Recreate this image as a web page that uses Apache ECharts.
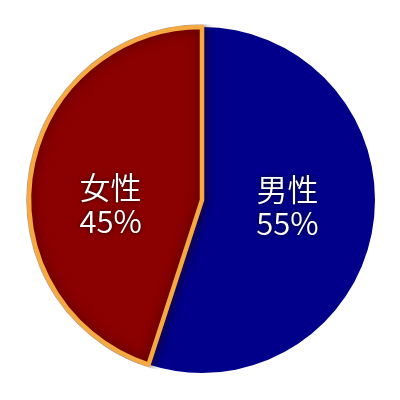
<!DOCTYPE html>
<html>
<head>
<meta charset="utf-8">
<script src="https://cdn.jsdelivr.net/npm/echarts@6/dist/echarts.min.js"></script>
<style>html,body{margin:0;padding:0;background:#fff;}#c{width:400px;height:400px;}</style>
</head>
<body>
<div id="c"></div>
<script>
var categories = ['男性', '女性'];
var values = [55, 45];
var colors = ['#00008B', '#8B0000'];

var chart = echarts.init(document.getElementById('c'), null, {renderer: 'canvas'});
var data = categories.map(function (name, i) {
  var item = { name: name, value: values[i], itemStyle: { color: colors[i] } };
  if (i === 1) {
    item.itemStyle.borderColor = '#F5A941';
    item.itemStyle.borderWidth = 4.5;
    item.itemStyle.shadowBlur = 12;
    item.itemStyle.shadowColor = 'rgba(40,0,0,0.75)';
  }
  return item;
});
chart.setOption({
  animation: false,
  backgroundColor: '#ffffff',
  series: [{
    type: 'pie',
    center: ['50.5%', '50%'],
    radius: 173,
    startAngle: 90,
    clockwise: true,
    silent: true,
    data: data,
    label: {
      show: true,
      position: 'inside',
      formatter: '{b}\n{d}%',
      color: '#ffffff',
      fontSize: 31,
      fontWeight: 350,
      lineHeight: 34,
      fontFamily: '"Noto Sans CJK JP", "Noto Sans", sans-serif',
      textShadowColor: 'rgba(0,0,0,0.85)',
      textShadowBlur: 4
    },
    labelLine: { show: false },
    labelLayout: function (p) {
      return p.dataIndex === 0 ? { dx: -3, dy: -8 } : { dx: -3, dy: 18 };
    },
    z: 2
  }, {
    type: 'pie',
    center: ['50.5%', '50%'],
    radius: [175.8, 215],
    silent: true,
    label: { show: false },
    labelLine: { show: false },
    data: [{ value: 1, itemStyle: { color: '#ffffff' } }],
    z: 3
  }]
});
</script>
</body>
</html>
